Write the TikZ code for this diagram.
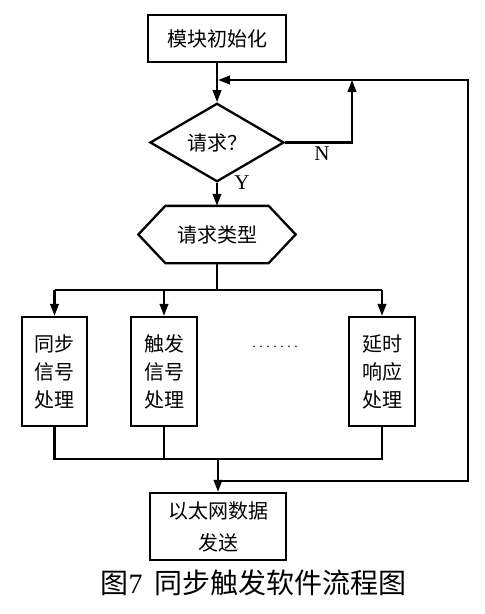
\documentclass[tikz,border=0pt]{standalone}
\usepackage{fontspec}
\setmainfont{Liberation Serif}
\newfontfamily\cjk{Noto Sans CJK SC}
\usetikzlibrary{arrows.meta,shapes.geometric,calc}
\begin{document}
\begin{tikzpicture}[x=1pt,y=-1pt,
  line width=2.3pt,
  >={Triangle[length=12pt,width=8.5pt]},
  box/.style={draw,rectangle,inner sep=0pt,align=center,font=\cjk\fontsize{20}{28}\selectfont},
  dec/.style={draw,diamond,inner sep=0pt,minimum width=134pt,minimum height=55pt,font=\cjk\fontsize{20}{24}\selectfont},
  hexbox/.style={rectangle,inner sep=0pt,minimum width=155pt,minimum height=55pt,font=\cjk\fontsize{20}{24}\selectfont},
  lbl/.style={font=\fontsize{21}{22}\selectfont},
]
\useasboundingbox[fill=white] (0,0) rectangle (485,614);

\node[box,minimum width=138pt,minimum height=47pt] (init) at (217,38.5) {模块初始化};
\node[dec] (dec) at (217,142.5) {请求？};
\node[hexbox] (hx) at (217,234.5) {请求类型};
\draw (hx.west) -- ($(hx.north west)+(27,0)$) -- ($(hx.north east)+(-27,0)$) -- (hx.east)
  -- ($(hx.south east)+(-27,0)$) -- ($(hx.south west)+(27,0)$) -- cycle;

\node[box,minimum width=65pt,minimum height=109pt] (b1) at (54.5,371.5) {同步\\信号\\处理};
\node[box,minimum width=66pt,minimum height=109pt] (b2) at (164,371.5) {触发\\信号\\处理};
\node[box,minimum width=66pt,minimum height=109pt] (b3) at (382,371.5) {延时\\响应\\处理};
\node[font=\fontsize{14}{16}\selectfont,anchor=base] (dots) at (275,347) {.\ .\ .\ .\ .\ .\ .};

\node[box,minimum width=136pt,minimum height=67pt,font=\cjk\fontsize{20}{32}\selectfont] (send) at (218,526.5) {以太网数据\\发送};

\node[lbl] (ylab) at (242,183) {Y};
\node[lbl] (nlab) at (322,154) {N};

\node[font=\fontsize{28}{32}\selectfont] (cap) at (253.5,583) {{\cjk 图}7\hspace{12pt}{\cjk 同步触发软件流程图}};

\coordinate (m1) at (218,80);
\coordinate (nup) at (352,80);
\coordinate (rtop) at (468,80);
\coordinate (busc) at (217,290);
\coordinate (jn) at (218,459);
\coordinate (lp) at (218,481);

\draw[->] (init) -- (dec);
\draw[->] (dec.east) -| (nup);
\draw[->] (dec) -- (hx);
\draw (hx.south) -- (busc);
\draw (b1.north |- busc) -- (b3.north |- busc);
\draw[->] (b1.north |- busc) -- (b1.north);
\draw[->] (b2.north |- busc) -- (b2.north);
\draw[->] (b3.north |- busc) -- (b3.north);
\draw (b1.south) -- (b1.south |- jn) -- (b3.south |- jn) -- (b3.south);
\draw (b2.south) -- (b2.south |- jn);
\draw[->] (jn) -- (send.north);
\draw[->] (lp) -| (rtop) -- (m1);
\end{tikzpicture}
\end{document}
